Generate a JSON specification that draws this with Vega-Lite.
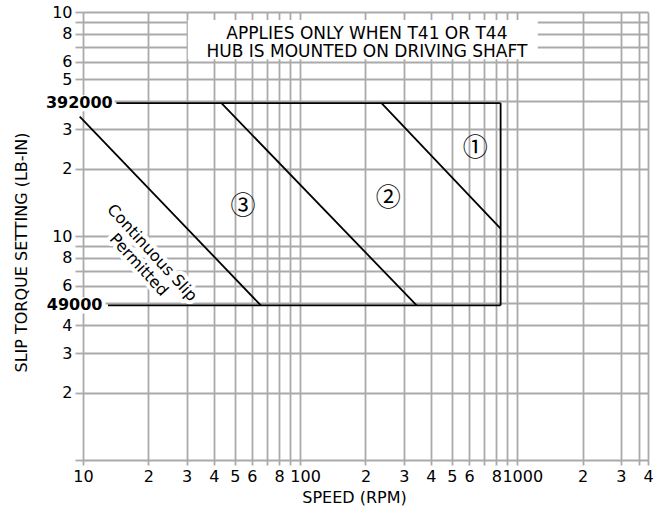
{
  "$schema": "https://vega.github.io/schema/vega-lite/v6.json",
  "autosize": {"type": "none"},
  "padding": {"left": 83, "top": 12, "right": 10, "bottom": 47},
  "width": 565,
  "height": 448,
  "config": {"view": {"stroke": null}, "font": "DejaVu Sans"},
  "datasets": {
    "boxes": [
      {"speed": 6.59, "speed2": 14.0, "torque": 360900, "torque2": 425500},
      {"speed": 6.59, "speed2": 12.72, "torque": 45100, "torque2": 53200},
      {"speed": 30.4, "speed2": 1243, "torque": 615000, "torque2": 920000}
    ],
    "segments": [
      {"speed": 14.25, "torque": 392000, "speed2": 838, "torque2": 392000},
      {"speed": 13.04, "torque": 49000, "speed2": 838, "torque2": 49000},
      {"speed": 838, "torque": 49000, "speed2": 838, "torque2": 392000},
      {"speed": 9.66, "torque": 341500, "speed2": 65.9, "torque2": 49000},
      {"speed": 43.4, "torque": 392000, "speed2": 344, "torque2": 49000},
      {"speed": 237, "torque": 392000, "speed2": 838, "torque2": 108000}
    ],
    "limits": [
      {"speed": 13.7, "torque": 392000, "label": "392000"},
      {"speed": 12.29, "torque": 49000, "label": "49000"}
    ],
    "note": [
      {"speed": 203, "torque": 757800, "label": "APPLIES ONLY WHEN T41 OR T44"},
      {"speed": 203, "torque": 629600, "label": "HUB IS MOUNTED ON DRIVING SHAFT"}
    ],
    "slip": [
      {"speed": 20.8, "torque": 84200, "label": "Continuous Slip\nPermitted"}
    ],
    "zones": [
      {"speed": 640, "torque": 247700, "label": "①"},
      {"speed": 254.4, "torque": 147200, "label": "②"},
      {"speed": 54.6, "torque": 136000, "label": "③"}
    ]
  },
  "layer": [
    {
      "data": {"name": "boxes"},
      "mark": {"type": "rect", "fill": "white", "strokeWidth": 0},
      "encoding": {
        "x": {
          "field": "speed", "type": "quantitative",
          "scale": {"type": "log", "domain": [10, 4000], "nice": false},
          "axis": {
            "title": "SPEED (RPM)",
            "titleFontSize": 16, "titleFontWeight": "normal", "titleColor": "black",
            "titleX": 271, "titleY": 42, "titleBaseline": "alphabetic", "titleAlign": "center",
            "values": [10, 20, 30, 40, 50, 60, 70, 80, 90, 100, 200, 300, 400, 500, 600, 700, 800, 900, 1000, 2000, 3000, 3640, 4000],
            "labelExpr": "datum.value == 10 || datum.value == 100 || datum.value == 1000 ? format(datum.value, 'd') : (indexof([70, 90, 700, 900, 3640], datum.value) >= 0 ? '' : substring(format(datum.value, 'd'), 0, 1))",
            "labelOffset": {"condition": {"test": "datum.value == 100 || datum.value == 1000", "value": 5}, "value": 0},
            "grid": true, "gridColor": "#aaaaaa", "gridWidth": 1.8, "gridOpacity": 1,
            "domain": false,
            "ticks": true, "tickColor": "#aaaaaa", "tickWidth": 1.8, "tickSize": 5,
            "labelFontSize": 16, "labelColor": "black", "labelPadding": 3,
            "labelFlush": false, "labelOverlap": false, "labelBound": false
          }
        },
        "x2": {"field": "speed2"},
        "y": {
          "field": "torque", "type": "quantitative",
          "scale": {"type": "log", "domain": [10000, 1000000], "nice": false},
          "axis": {
            "title": "SLIP TORQUE SETTING (LB-IN)",
            "titleFontSize": 16, "titleFontWeight": "normal", "titleColor": "black",
            "titleX": -62, "titleY": 240, "titleAngle": -90, "titleBaseline": "middle", "titleAlign": "center",
            "values": [10000, 20000, 30000, 40000, 50000, 60000, 70000, 80000, 90000, 100000, 200000, 300000, 400000, 500000, 600000, 700000, 800000, 900000, 1000000],
            "labelExpr": "indexof([10000, 50000, 70000, 90000, 400000, 700000, 900000], datum.value) >= 0 ? '' : (datum.value == 100000 || datum.value == 1000000 ? '10' : substring(format(datum.value, 'd'), 0, 1))",
            "grid": true, "gridColor": "#aaaaaa", "gridWidth": 1.8, "gridOpacity": 1,
            "domain": false,
            "ticks": true, "tickColor": "#aaaaaa", "tickWidth": 1.8, "tickSize": 8,
            "labelFontSize": 16, "labelColor": "black", "labelPadding": 3,
            "labelFlush": false, "labelOverlap": false, "labelBound": false
          }
        },
        "y2": {"field": "torque2"}
      }
    },
    {
      "data": {"name": "slip"},
      "mark": {"type": "text", "angle": 47.6, "align": "center", "baseline": "middle", "lineBreak": "\n", "lineHeight": 18, "fontSize": 16, "fill": "white", "stroke": "white", "strokeWidth": 8, "strokeJoin": "round"},
      "encoding": {
        "x": {"field": "speed", "type": "quantitative", "scale": {"type": "log", "domain": [10, 4000], "nice": false}},
        "y": {"field": "torque", "type": "quantitative", "scale": {"type": "log", "domain": [10000, 1000000], "nice": false}},
        "text": {"field": "label"}
      }
    },
    {
      "data": {"name": "segments"},
      "mark": {"type": "rule", "color": "black", "strokeWidth": 1.8},
      "encoding": {
        "x": {"field": "speed", "type": "quantitative", "scale": {"type": "log", "domain": [10, 4000], "nice": false}},
        "x2": {"field": "speed2"},
        "y": {"field": "torque", "type": "quantitative", "scale": {"type": "log", "domain": [10000, 1000000], "nice": false}},
        "y2": {"field": "torque2"}
      }
    },
    {
      "data": {"name": "limits"},
      "mark": {"type": "text", "align": "right", "baseline": "middle", "fontSize": 16, "fontWeight": "bold", "color": "black"},
      "encoding": {
        "x": {"field": "speed", "type": "quantitative", "scale": {"type": "log", "domain": [10, 4000], "nice": false}},
        "y": {"field": "torque", "type": "quantitative", "scale": {"type": "log", "domain": [10000, 1000000], "nice": false}},
        "text": {"field": "label"}
      }
    },
    {
      "data": {"name": "note"},
      "mark": {"type": "text", "align": "center", "baseline": "alphabetic", "fontSize": 17, "color": "black"},
      "encoding": {
        "x": {"field": "speed", "type": "quantitative", "scale": {"type": "log", "domain": [10, 4000], "nice": false}},
        "y": {"field": "torque", "type": "quantitative", "scale": {"type": "log", "domain": [10000, 1000000], "nice": false}},
        "text": {"field": "label"}
      }
    },
    {
      "data": {"name": "slip"},
      "mark": {"type": "text", "angle": 47.6, "align": "center", "baseline": "middle", "lineBreak": "\n", "lineHeight": 18, "fontSize": 16, "color": "black"},
      "encoding": {
        "x": {"field": "speed", "type": "quantitative", "scale": {"type": "log", "domain": [10, 4000], "nice": false}},
        "y": {"field": "torque", "type": "quantitative", "scale": {"type": "log", "domain": [10000, 1000000], "nice": false}},
        "text": {"field": "label"}
      }
    },
    {
      "data": {"name": "zones"},
      "mark": {"type": "text", "align": "center", "baseline": "middle", "fontSize": 25, "font": "Noto Sans CJK JP", "color": "black"},
      "encoding": {
        "x": {"field": "speed", "type": "quantitative", "scale": {"type": "log", "domain": [10, 4000], "nice": false}},
        "y": {"field": "torque", "type": "quantitative", "scale": {"type": "log", "domain": [10000, 1000000], "nice": false}},
        "text": {"field": "label"}
      }
    }
  ]
}
